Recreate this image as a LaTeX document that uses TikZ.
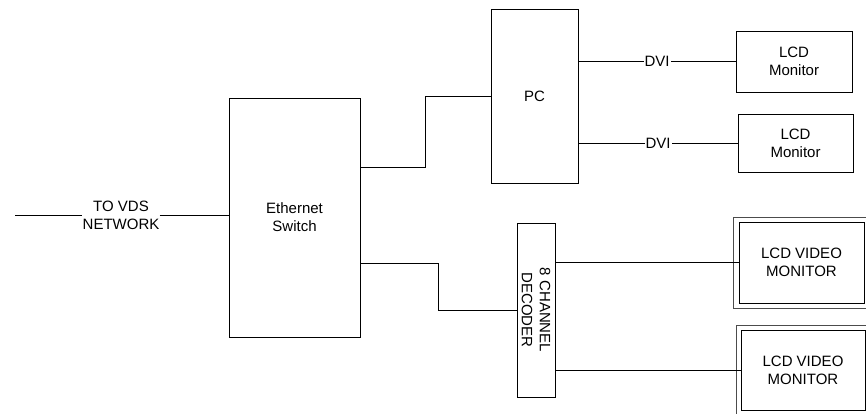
\documentclass[tikz,border=0pt]{standalone}
\usepackage{fontspec}
\setmainfont{Liberation Sans}
\usetikzlibrary{positioning}

\begin{document}
\begin{tikzpicture}[x=1pt, y=-1pt, line width=0.8pt,
    font=\fontsize{15}{18}\selectfont,
    box/.style={draw, rectangle, align=center, inner sep=0pt},
    lbl/.style={fill=white, inner sep=1pt},
    frame/.style={draw=black!70, line width=0.6pt}]

    % --- 1. RAHMEN ---
    \path[use as bounding box, clip] (0,0) rectangle (866,413);

    % --- 2. GERAETE ---
    \node[box, minimum width=131, minimum height=239] (switch) at (294.5,217.5) {Ethernet\\Switch};
    \node[box, minimum width=87, minimum height=174] (pc) at (534.5,96) {PC};
    \node[box, minimum width=116, minimum height=61] (mon1) at (794,61.5) {LCD\\Monitor};
    \node[box, minimum width=115, minimum height=58] (mon2) at (795.5,143) {LCD\\Monitor};
    \node[box, minimum width=38, minimum height=174] (dec) at (536,310) {};
    \node[rotate=-90, align=center] at (dec) {8 CHANNEL\\DECODER};
    \node[box, minimum width=125, minimum height=81] (vmon1) at (801.5,262.5) {LCD VIDEO\\MONITOR};
    \node[box, minimum width=124, minimum height=80] (vmon2) at (803,370) {LCD VIDEO\\MONITOR};

    % aeusserer Rahmen der Videomonitore (rechts abgeschnitten)
    \draw[frame] ([shift={(-5pt,4pt)}]vmon1.north west) rectangle ([shift={(15pt,-5pt)}]vmon1.south east);
    \draw[frame] ([shift={(-4pt,4pt)}]vmon2.north west) rectangle ([shift={(15pt,-6pt)}]vmon2.south east);

    % --- 3. NETZWERK ---
    \node[align=center, inner sep=0pt] (net) at (121,215) {TO VDS\\NETWORK};
    \coordinate (netend) at (15,215);
    \draw (netend) -- (net);
    \draw (net) -- (net -| switch.west);

    % --- 4. VERBINDUNGEN ---
    \draw ([yshift=50.5pt]switch.east) -- ++(65,0) |- (pc);
    \draw ([yshift=-45.5pt]switch.east) -- ++(78,0) |- (dec);

    \draw (pc.east |- mon1) -- node[lbl] {DVI} (mon1);
    \draw (pc.east |- mon2) -- node[lbl] {DVI} (mon2);

    \draw (dec.east |- vmon1) -- (vmon1);
    \draw (dec.east |- vmon2) -- (vmon2);

\end{tikzpicture}
\end{document}
